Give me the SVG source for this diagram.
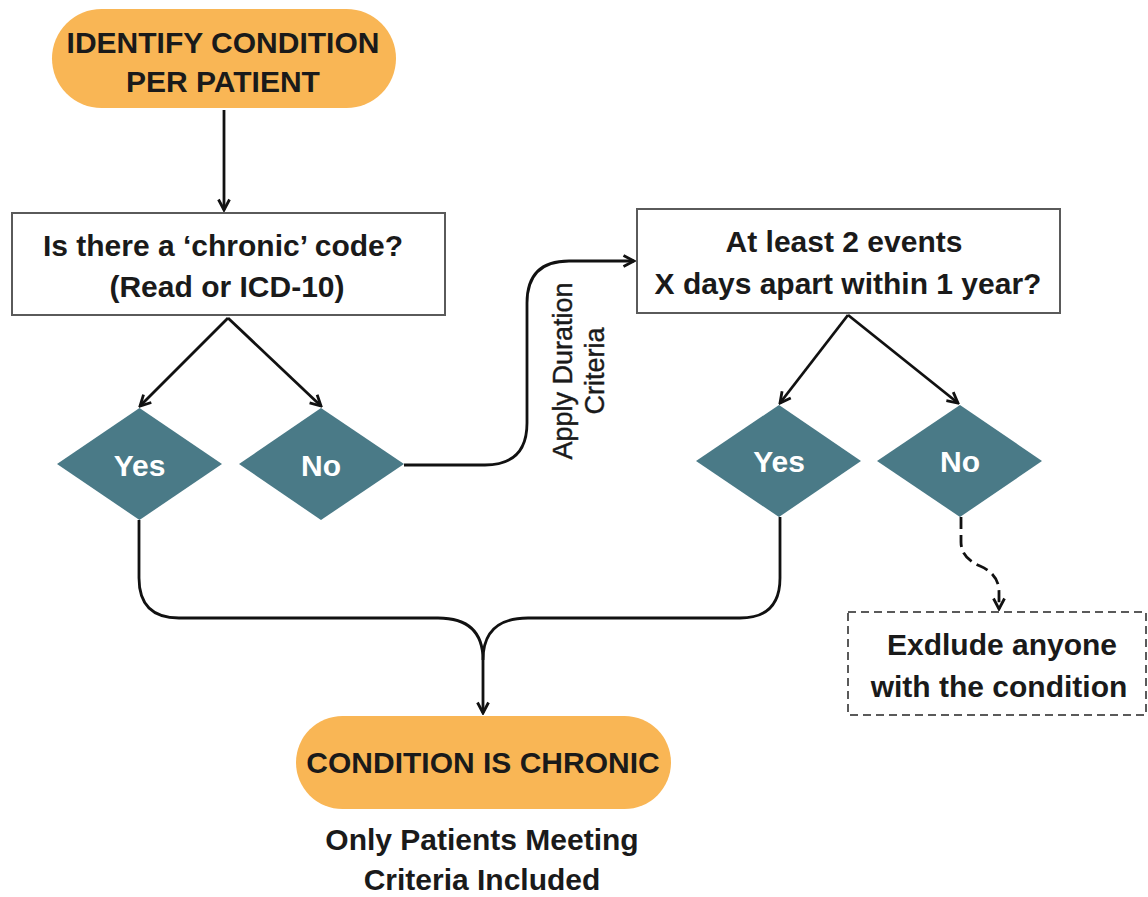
<svg xmlns="http://www.w3.org/2000/svg" width="1148" height="897" viewBox="0 0 1148 897">
<style>
  .t{font-family:"Liberation Sans",Arial,sans-serif;font-weight:700;font-size:30px;fill:#1a1a1a;text-anchor:middle}
  .w{font-family:"Liberation Sans",Arial,sans-serif;font-weight:700;font-size:30px;fill:#ffffff;text-anchor:middle}
  .lbl{font-family:"Liberation Sans",Arial,sans-serif;font-size:27px;fill:#1a1a1a;text-anchor:middle;stroke:#1a1a1a;stroke-width:0.4}
  .pill{fill:#F9B655}
  .box{fill:#ffffff;stroke:#5a5a5a;stroke-width:2}
  .dbox{fill:#ffffff;stroke:#5a5a5a;stroke-width:2;stroke-dasharray:8 5}
  .dia{fill:#4A7A87}
  .c{fill:none;stroke:#111;stroke-width:2.8}
</style>
<defs>
  <marker id="ah" viewBox="0 0 14 14" refX="12" refY="7" markerWidth="14" markerHeight="14" markerUnits="userSpaceOnUse" orient="auto">
    <path d="M1.5,1.5 L12,7 L1.5,12.5" fill="none" stroke="#111" stroke-width="2.8"/>
  </marker>
</defs>

<g id="connectors">
  <path class="c" d="M224,110 L224,210" marker-end="url(#ah)"/>
  <path class="c" d="M228,318 L140,406" marker-end="url(#ah)"/>
  <path class="c" d="M228,318 L321,406" marker-end="url(#ah)"/>
  <path class="c" d="M404,465 L485,465 Q527,465 527,423 L527,303 Q527,261 569,261 L634,261" marker-end="url(#ah)"/>
  <path class="c" d="M848,315 L780,403" marker-end="url(#ah)"/>
  <path class="c" d="M848,315 L958,403" marker-end="url(#ah)"/>
  <path class="c" d="M139,520 L139,578 Q139,618 179,618 L438,618 Q483,618 483,660 L483,713" marker-end="url(#ah)"/>
  <path class="c" d="M780,517 L780,578 Q780,618 740,618 L528,618 Q483,618 483,660"/>
  <path class="c" d="M961,517 L961,542 Q961,558 980,566 Q999,574 999,592 L999,609" stroke-dasharray="12 6" marker-end="url(#ah)"/>
  <text class="lbl" transform="translate(572,371) rotate(-90)"><tspan x="0" y="0">Apply Duration</tspan><tspan x="0" y="32">Criteria</tspan></text>
</g>

<g id="start">
  <rect class="pill" x="52" y="9" width="344" height="99" rx="49.5"/>
  <text class="t" x="223" y="53">IDENTIFY CONDITION</text>
  <text class="t" x="223" y="92">PER PATIENT</text>
</g>

<g id="q1">
  <rect class="box" x="12" y="213" width="433" height="102"/>
  <text class="t" x="223" y="256">Is there a ‘chronic’ code?</text>
  <text class="t" x="227" y="297">(Read or ICD-10)</text>
</g>

<g id="yes1">
  <polygon class="dia" points="139.5,408 222,464 139.5,520 57,464"/>
  <text class="w" x="139.5" y="476">Yes</text>
</g>

<g id="no1">
  <polygon class="dia" points="321,408 404,464 321,520 239,464"/>
  <text class="w" x="321" y="476">No</text>
</g>

<g id="q2">
  <rect class="box" x="637" y="209" width="423" height="104"/>
  <text class="t" x="844" y="252">At least 2 events</text>
  <text class="t" x="848" y="294">X days apart within 1 year?</text>
</g>

<g id="yes2">
  <polygon class="dia" points="779,405 861,461 779,517 696,461"/>
  <text class="w" x="779" y="472">Yes</text>
</g>

<g id="no2">
  <polygon class="dia" points="960,405 1042,461 960,517 877,461"/>
  <text class="w" x="960" y="472">No</text>
</g>

<g id="exclude">
  <rect class="dbox" x="848" y="612" width="298" height="103"/>
  <text class="t" x="1002" y="655">Exdlude anyone</text>
  <text class="t" x="999" y="697">with the condition</text>
</g>

<g id="chronic">
  <rect class="pill" x="296" y="716" width="375" height="93" rx="46.5"/>
  <text class="t" x="483" y="773">CONDITION IS CHRONIC</text>
</g>

<g id="note">
  <text class="t" x="482" y="850">Only Patients Meeting</text>
  <text class="t" x="482" y="890">Criteria Included</text>
</g>
</svg>
